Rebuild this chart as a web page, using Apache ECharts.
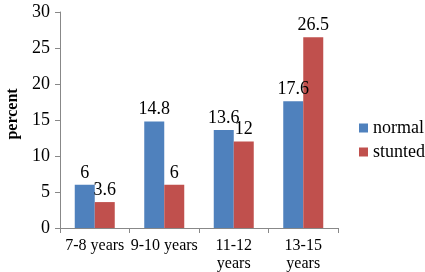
<!DOCTYPE html>
<html>
<head>
<meta charset="utf-8">
<script src="https://cdn.jsdelivr.net/npm/echarts@6/dist/echarts.min.js"></script>
<style>
  html, body { margin: 0; padding: 0; background: #fff; }
  #chart { width: 425px; height: 272px; }
</style>
</head>
<body>
<div id="chart"></div>
<script>
// age groups (two-line labels as in the original)
const categories = ['7-8 years', '9-10 years', '11-12\nyears', '13-15\nyears']
const normal = [6, 14.8, 13.6, 17.6]
const stunted = [3.6, 6, 12, 26.5]
const yTicks = { min: 0, max: 30, interval: 5 }

const font = 'Liberation Serif'
const myChart = echarts.init(document.getElementById('chart'))

const barLabel = {
  show: true,
  position: 'top',
  distance: 3,
  color: '#000',
  fontFamily: font,
  fontSize: 18
}

const options = {
  animation: false,
  textStyle: { fontFamily: font },
  grid: { left: 60, right: 87, top: 12, bottom: 44, outerBoundsMode: 'none', containLabel: false },
  legend: {
    orient: 'vertical',
    left: 354,
    top: 114,
    itemWidth: 9,
    itemHeight: 9,
    itemGap: 6,
    icon: 'rect',
    textStyle: { color: '#000', fontFamily: font, fontSize: 18 },
    data: ['normal', 'stunted']
  },
  xAxis: {
    type: 'category',
    data: categories,
    axisLine: { lineStyle: { color: '#888', width: 1 } },
    axisTick: { show: true, length: 5, lineStyle: { color: '#888' } },
    axisLabel: {
      color: '#000',
      fontFamily: font,
      fontSize: 16,
      lineHeight: 18,
      margin: 9,
      interval: 0
    }
  },
  yAxis: {
    type: 'value',
    min: yTicks.min,
    max: yTicks.max,
    interval: yTicks.interval,
    name: 'percent',
    nameLocation: 'middle',
    nameGap: 37,
    nameTextStyle: {
      color: '#000',
      fontFamily: font,
      fontSize: 16,
      fontWeight: 'bold',
      padding: [0, 0, 0, 12] // nudges the rotated title up a little
    },
    axisLine: { show: true, lineStyle: { color: '#888', width: 1 } },
    axisTick: { show: true, length: 5, lineStyle: { color: '#888' } },
    axisLabel: { color: '#000', fontFamily: font, fontSize: 18, margin: 10 },
    splitLine: { show: false }
  },
  series: [
    {
      name: 'normal',
      type: 'bar',
      data: normal,
      barWidth: 20,
      barGap: '0%',
      itemStyle: { color: '#4f81bd' },
      label: barLabel
    },
    {
      name: 'stunted',
      type: 'bar',
      data: stunted,
      barWidth: 20,
      itemStyle: { color: '#c0504d' },
      label: barLabel
    }
  ]
}
myChart.setOption(options)
</script>
</body>
</html>
